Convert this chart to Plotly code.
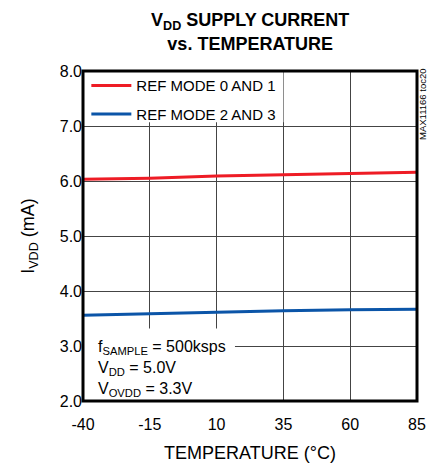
import plotly.graph_objects as go

temps = [-40, -15, 10, 35, 60, 85]
ref_mode_01 = [6.03, 6.05, 6.09, 6.11, 6.13, 6.16]
ref_mode_23 = [3.56, 3.59, 3.62, 3.64, 3.66, 3.67]
series_names = ["REF MODE 0 AND 1", "REF MODE 2 AND 3"]
x_ticks = [-40, -15, 10, 35, 60, 85]
y_ticks = [2.0, 3.0, 4.0, 5.0, 6.0, 7.0, 8.0]

FONT = "Liberation Sans, Arial, sans-serif"

fig = go.Figure()
fig.add_trace(go.Scatter(x=temps, y=ref_mode_01, mode="lines", name=series_names[0],
                         legendgroup="a", line=dict(color="#ee1c25", width=3)))
fig.add_trace(go.Scatter(x=temps, y=ref_mode_23, mode="lines", name=series_names[1],
                         legendgroup="b", line=dict(color="#0b55a8", width=3)))

# white boxes behind legend and conditions text (traces never pass there)
fig.add_shape(type="rect", xref="x domain", yref="y domain", x0=0, x1=0.6, y0=0.845, y1=1,
              fillcolor="white", line=dict(width=0), layer="above")
fig.add_shape(type="rect", xref="x domain", yref="y domain", x0=0, x1=0.455, y0=0, y1=0.22,
              fillcolor="white", line=dict(width=0), layer="above")
# plot frame on top
fig.add_shape(type="rect", xref="x domain", yref="y domain", x0=0, x1=1, y0=0, y1=1,
              fillcolor="rgba(0,0,0,0)", line=dict(width=3, color="black"), layer="above")

fig.add_annotation(xref="x domain", yref="y domain", x=0.04, y=0.0, xanchor="left", yanchor="bottom",
                   align="left", showarrow=False,
                   text="f<sub>SAMPLE</sub> = 500ksps<br>V<sub>DD</sub> = 5.0V<br>V<sub>OVDD</sub> = 3.3V",
                   font=dict(family=FONT, size=16, color="black"))

fig.add_annotation(xref="paper", yref="paper", x=1.0, y=0.897, xanchor="center", yanchor="middle",
                   showarrow=False, textangle=-90, text="MAX11166 toc20",
                   font=dict(family=FONT, size=9.5, color="black"), xshift=6)

fig.update_layout(
    width=427, height=464,
    margin=dict(l=83, r=10, t=71, b=63, autoexpand=False),
    paper_bgcolor="white", plot_bgcolor="white",
    font=dict(family=FONT, size=15, color="black"),
    title=dict(text="<b>V<sub>DD</sub> SUPPLY CURRENT<br>vs. TEMPERATURE</b>",
               x=0.586, xanchor="center", y=0.943, yanchor="middle",
               font=dict(family=FONT, size=18)),
    showlegend=True,
    legend=dict(x=0.01, y=1.005, xanchor="left", yanchor="top", bgcolor="rgba(0,0,0,0)",
                font=dict(family=FONT, size=15), tracegroupgap=6, itemwidth=40),
)
fig.update_xaxes(range=[-40, 85], tickvals=x_ticks, ticktext=[str(v) for v in x_ticks],
                 showgrid=True, gridcolor="#444", gridwidth=1, zeroline=False, automargin=False,
                 showline=False, ticks="outside", ticklen=9, tickcolor="rgba(0,0,0,0)",
                 tickfont=dict(size=16),
                 title=dict(text="TEMPERATURE (°C)", standoff=14))
fig.update_yaxes(range=[2, 8], tickvals=y_ticks, ticktext=[f"{v:.1f}" for v in y_ticks],
                 showgrid=True, gridcolor="#444", gridwidth=1, zeroline=False, automargin=False,
                 showline=False, ticks="",
                 tickfont=dict(size=16),
                 title=dict(text="I<sub>VDD</sub> (mA)", standoff=20))

fig.write_html("out.html", config={"displayModeBar": False},
               post_script="document.body.style.margin='0';")
